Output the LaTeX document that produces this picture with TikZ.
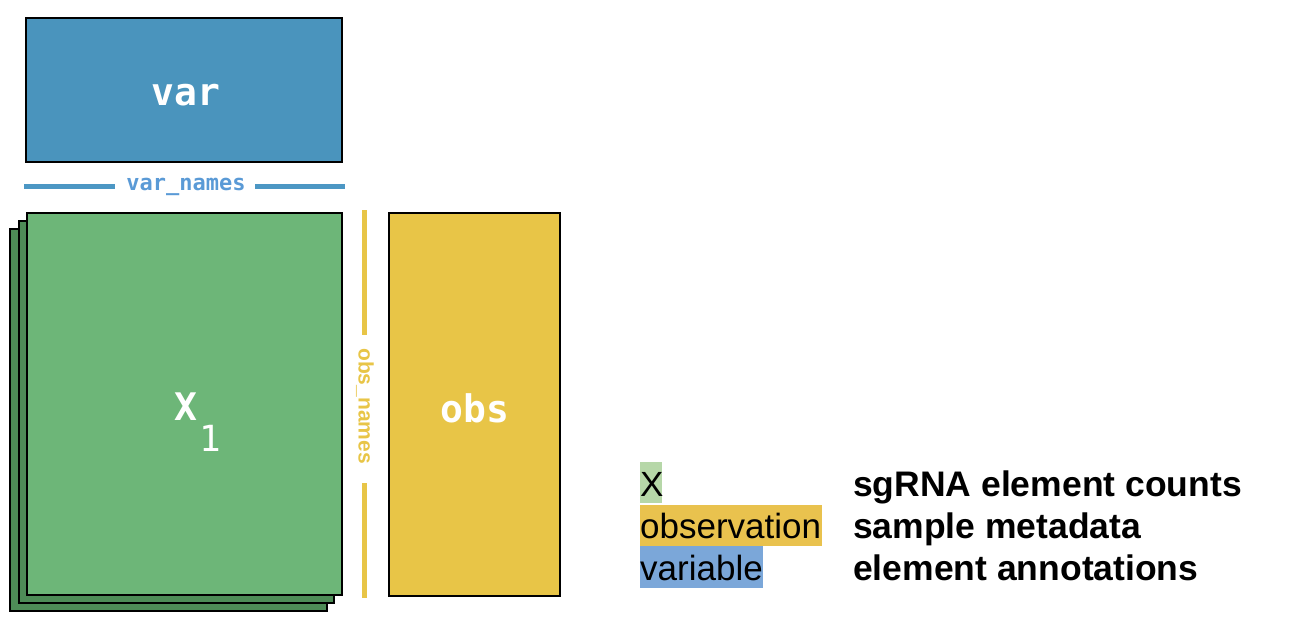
\documentclass[tikz,border=0pt]{standalone}
\usepackage{fontspec}
\setmainfont{Liberation Sans}
\newfontfamily\boxfont{DejaVu Sans Mono}
\newfontfamily\monofont{DejaVu Sans Mono}
\definecolor{varblue}{HTML}{4A94BD}
\definecolor{varline}{HTML}{4C97C4}
\definecolor{vartext}{HTML}{5A9AD6}
\definecolor{xgreen}{HTML}{6DB678}
\definecolor{xdark}{HTML}{4E8C57}
\definecolor{obsyel}{HTML}{E8C547}
\definecolor{hlgreen}{HTML}{B6D7A8}
\definecolor{hlorange}{HTML}{E9C24E}
\definecolor{hlblue}{HTML}{7BA7D9}
\tikzset{
  mat/.style={draw=black, line width=2.5pt},
  boxlabel/.style={text=white, font=\boxfont\bfseries\fontsize{38}{40}\selectfont},
  namelabel/.style={font=\monofont\bfseries\fontsize{22}{24}\selectfont, inner sep=0pt},
  legkey/.style={anchor=base west, inner sep=0pt, font=\fontsize{35}{40}\selectfont},
  legdesc/.style={anchor=base west, inner sep=0pt, font=\bfseries\fontsize{35.5}{40}\selectfont},
}
\begin{document}
\begin{tikzpicture}[x=1pt,y=-1pt]
\useasboundingbox (0,0) rectangle (1312,622);
% var box
\draw[mat, fill=varblue] (26,18) rectangle (342,162);
\node[boxlabel] (var) at (186,95) {var};
% var_names
\node[namelabel, text=vartext] (vn) at (186,187) {var\_names};
\draw[varline, line width=5pt] (24,186) -- (115,186);
\draw[varline, line width=5pt] (255,186) -- (345,186);
% stacked X
\draw[mat, fill=xdark] (10,229) rectangle (327,611);
\draw[mat, fill=xdark] (19,221) rectangle (334,603);
\draw[mat, fill=xgreen] (27,213) rectangle (342,595);
\node[boxlabel] (X) at (186,407) {X};
\node[boxlabel, font=\boxfont\fontsize{36}{40}\selectfont] (one) at (210,438) {1};
% obs_names
\draw[obsyel, line width=5pt] (364,210) -- (364,335);
\draw[obsyel, line width=5pt] (364,483) -- (364,598);
\node[inner sep=0pt, text=obsyel, rotate=-90, font=\bfseries\fontsize{21}{24}\selectfont] (on) at (365,406) {obs\_names};
% obs box
\draw[mat, fill=obsyel] (389,213) rectangle (560,596);
\node[boxlabel] (obs) at (475,408) {obs};
% legend
\fill[hlgreen] (640,462) rectangle (662,503);
\fill[hlorange] (640,505) rectangle (822,546);
\fill[hlblue] (640,546) rectangle (763,588);
\node[legkey] (k1) at (640,496) {X};
\node[legkey] (k2) at (640,538) {observation};
\node[legkey] (k3) at (640,580) {variable};
\node[legdesc] (d1) at (853,496) {sgRNA element counts};
\node[legdesc] (d2) at (853,538) {sample metadata};
\node[legdesc] (d3) at (853,580) {element annotations};
\end{tikzpicture}
\end{document}
